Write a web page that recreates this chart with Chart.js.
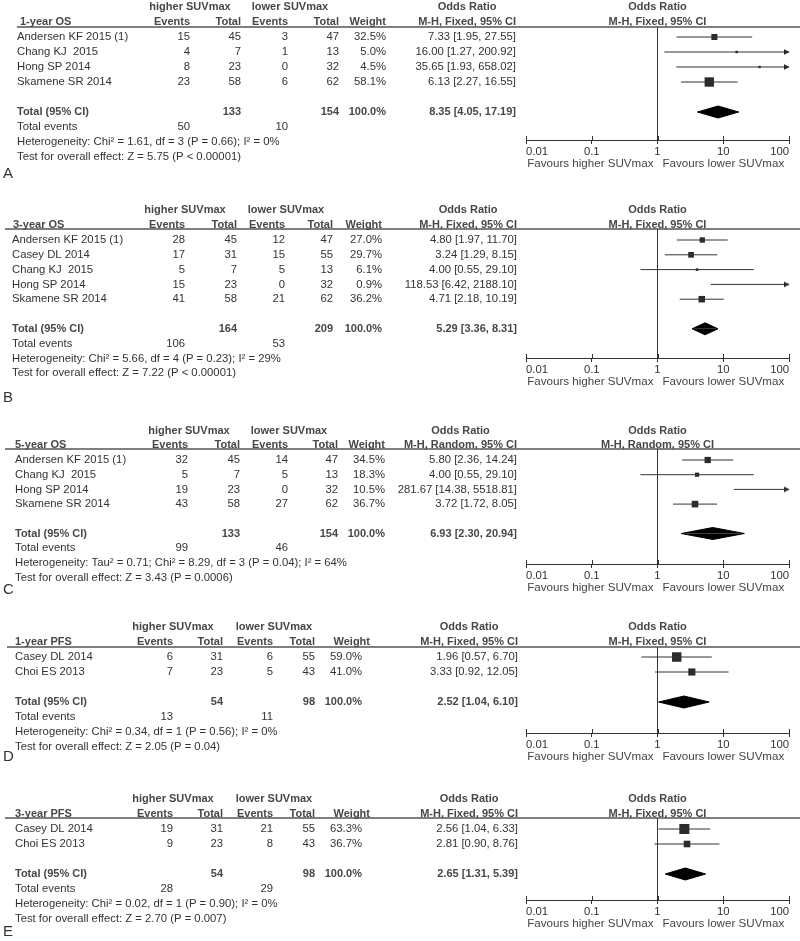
<!DOCTYPE html>
<html>
<head>
<meta charset="utf-8">
<script src="https://cdn.jsdelivr.net/npm/chart.js@4.4.1/dist/chart.umd.min.js"></script>
<style>
  body { margin: 0; background: #fff; }
  #wrap { position: relative; width: 800px; height: 941px; background: #fff; }
  #wrap canvas { position: absolute; left: 0; }
</style>
</head>
<body>
<div id="wrap"></div>
<script>
const FONT = '"Liberation Sans", Arial, Helvetica, sans-serif';
Chart.defaults.font.family = FONT;
Chart.defaults.font.size = 11;
Chart.defaults.color = '#333';

const axisTicks = [0.01, 0.1, 1, 10, 100];
const favours = ['Favours higher SUVmax', 'Favours lower SUVmax'];

// A - 1-year OS
const os1Studies = ['Andersen KF 2015 (1)', 'Chang KJ  2015', 'Hong SP 2014', 'Skamene SR 2014'];
const os1HighEvents = [15, 4, 8, 23];
const os1HighTotal = [45, 7, 23, 58];
const os1LowEvents = [3, 1, 0, 6];
const os1LowTotal = [47, 13, 32, 62];
const os1Weight = [32.5, 5.0, 4.5, 58.1];
const os1OR = [7.33, 16.00, 35.65, 6.13];
const os1Lower = [1.95, 1.27, 1.93, 2.27];
const os1Upper = [27.55, 200.92, 658.02, 16.55];
const os1Totals = [133, 154];
const os1Events = [50, 10];
const os1Pooled = [8.35, 4.05, 17.19];
const os1Het = 'Heterogeneity: Chi\u00b2 = 1.61, df = 3 (P = 0.66); I\u00b2 = 0%';
const os1Test = 'Test for overall effect: Z = 5.75 (P < 0.00001)';

// B - 3-year OS
const os3Studies = ['Andersen KF 2015 (1)', 'Casey DL 2014', 'Chang KJ  2015', 'Hong SP 2014', 'Skamene SR 2014'];
const os3HighEvents = [28, 17, 5, 15, 41];
const os3HighTotal = [45, 31, 7, 23, 58];
const os3LowEvents = [12, 15, 5, 0, 21];
const os3LowTotal = [47, 55, 13, 32, 62];
const os3Weight = [27.0, 29.7, 6.1, 0.9, 36.2];
const os3OR = [4.80, 3.24, 4.00, 118.53, 4.71];
const os3Lower = [1.97, 1.29, 0.55, 6.42, 2.18];
const os3Upper = [11.70, 8.15, 29.10, 2188.10, 10.19];
const os3Totals = [164, 209];
const os3Events = [106, 53];
const os3Pooled = [5.29, 3.36, 8.31];
const os3Het = 'Heterogeneity: Chi\u00b2 = 5.66, df = 4 (P = 0.23); I\u00b2 = 29%';
const os3Test = 'Test for overall effect: Z = 7.22 (P < 0.00001)';

// C - 5-year OS
const os5Studies = ['Andersen KF 2015 (1)', 'Chang KJ  2015', 'Hong SP 2014', 'Skamene SR 2014'];
const os5HighEvents = [32, 5, 19, 43];
const os5HighTotal = [45, 7, 23, 58];
const os5LowEvents = [14, 5, 0, 27];
const os5LowTotal = [47, 13, 32, 62];
const os5Weight = [34.5, 18.3, 10.5, 36.7];
const os5OR = [5.80, 4.00, 281.67, 3.72];
const os5Lower = [2.36, 0.55, 14.38, 1.72];
const os5Upper = [14.24, 29.10, 5518.81, 8.05];
const os5Totals = [133, 154];
const os5Events = [99, 46];
const os5Pooled = [6.93, 2.30, 20.94];
const os5Het = 'Heterogeneity: Tau\u00b2 = 0.71; Chi\u00b2 = 8.29, df = 3 (P = 0.04); I\u00b2 = 64%';
const os5Test = 'Test for overall effect: Z = 3.43 (P = 0.0006)';

// D - 1-year PFS
const pfs1Studies = ['Casey DL 2014', 'Choi ES 2013'];
const pfs1HighEvents = [6, 7];
const pfs1HighTotal = [31, 23];
const pfs1LowEvents = [6, 5];
const pfs1LowTotal = [55, 43];
const pfs1Weight = [59.0, 41.0];
const pfs1OR = [1.96, 3.33];
const pfs1Lower = [0.57, 0.92];
const pfs1Upper = [6.70, 12.05];
const pfs1Totals = [54, 98];
const pfs1Events = [13, 11];
const pfs1Pooled = [2.52, 1.04, 6.10];
const pfs1Het = 'Heterogeneity: Chi\u00b2 = 0.34, df = 1 (P = 0.56); I\u00b2 = 0%';
const pfs1Test = 'Test for overall effect: Z = 2.05 (P = 0.04)';

// E - 3-year PFS
const pfs3Studies = ['Casey DL 2014', 'Choi ES 2013'];
const pfs3HighEvents = [19, 9];
const pfs3HighTotal = [31, 23];
const pfs3LowEvents = [21, 8];
const pfs3LowTotal = [55, 43];
const pfs3Weight = [63.3, 36.7];
const pfs3OR = [2.56, 2.81];
const pfs3Lower = [1.04, 0.90];
const pfs3Upper = [6.33, 8.76];
const pfs3Totals = [54, 98];
const pfs3Events = [28, 29];
const pfs3Pooled = [2.65, 1.31, 5.39];
const pfs3Het = 'Heterogeneity: Chi\u00b2 = 0.02, df = 1 (P = 0.90); I\u00b2 = 0%';
const pfs3Test = 'Test for overall effect: Z = 2.70 (P = 0.007)';

const colsWide = { title: 15, name: 15, ev1: 188, tot1: 240, ev2: 288, tot2: 338, wt: 385, wtHead: 385, orv: 517, hiHead: 189, loHead: 289 };
const colsNarrow = { title: 15, name: 15, ev1: 173, tot1: 223, ev2: 273, tot2: 315, wt: 362, wtHead: 370, orv: 518, hiHead: 173, loHead: 274 };

const panels = [
  { letter: 'A', title: '1-year OS', method: 'M-H, Fixed, 95% CI',
    studies: os1Studies, hiEv: os1HighEvents, hiN: os1HighTotal, loEv: os1LowEvents, loN: os1LowTotal,
    weight: os1Weight, or: os1OR, lower: os1Lower, upper: os1Upper,
    totals: os1Totals, events: os1Events, pooled: os1Pooled, het: os1Het, test: os1Test,
    top: 0, height: 190, y0: 37, step: 15, lineY: 27, lineX: 17, axisY: 140, letterY: 174,
    cols: { title: 20, name: 17, ev1: 190, tot1: 241, ev2: 288, tot2: 339, wt: 386, wtHead: 386, orv: 516, hiHead: 190, loHead: 290 } },
  { letter: 'B', title: '3-year OS', method: 'M-H, Fixed, 95% CI',
    studies: os3Studies, hiEv: os3HighEvents, hiN: os3HighTotal, loEv: os3LowEvents, loN: os3LowTotal,
    weight: os3Weight, or: os3OR, lower: os3Lower, upper: os3Upper,
    totals: os3Totals, events: os3Events, pooled: os3Pooled, het: os3Het, test: os3Test,
    top: 190, height: 220, y0: 240, step: 14.8, lineY: 229, lineX: 5, axisY: 358, letterY: 398,
    cols: { title: 13, name: 12, ev1: 185, tot1: 237, ev2: 285, tot2: 333, wt: 382, wtHead: 382, orv: 517, hiHead: 185, loHead: 286 } },
  { letter: 'C', title: '5-year OS', method: 'M-H, Random, 95% CI',
    studies: os5Studies, hiEv: os5HighEvents, hiN: os5HighTotal, loEv: os5LowEvents, loN: os5LowTotal,
    weight: os5Weight, or: os5OR, lower: os5Lower, upper: os5Upper,
    totals: os5Totals, events: os5Events, pooled: os5Pooled, het: os5Het, test: os5Test,
    top: 410, height: 195, y0: 460, step: 14.7, lineY: 449, lineX: 5, axisY: 564, letterY: 590,
    cols: colsWide },
  { letter: 'D', title: '1-year PFS', method: 'M-H, Fixed, 95% CI',
    studies: pfs1Studies, hiEv: pfs1HighEvents, hiN: pfs1HighTotal, loEv: pfs1LowEvents, loN: pfs1LowTotal,
    weight: pfs1Weight, or: pfs1OR, lower: pfs1Lower, upper: pfs1Upper,
    totals: pfs1Totals, events: pfs1Events, pooled: pfs1Pooled, het: pfs1Het, test: pfs1Test,
    top: 605, height: 170, y0: 657, step: 15, lineY: 647, lineX: 7, axisY: 733, letterY: 757,
    cols: colsNarrow },
  { letter: 'E', title: '3-year PFS', method: 'M-H, Fixed, 95% CI',
    studies: pfs3Studies, hiEv: pfs3HighEvents, hiN: pfs3HighTotal, loEv: pfs3LowEvents, loN: pfs3LowTotal,
    weight: pfs3Weight, or: pfs3OR, lower: pfs3Lower, upper: pfs3Upper,
    totals: pfs3Totals, events: pfs3Events, pooled: pfs3Pooled, het: pfs3Het, test: pfs3Test,
    top: 775, height: 166, y0: 829, step: 15, lineY: 818, lineX: 5, axisY: 900, letterY: 932,
    cols: colsNarrow }
];

const X_MIN = axisTicks[0], X_MAX = axisTicks[axisTicks.length - 1];
const AXIS_H = 30;
const BODY_SIZE = 11.3;

// arrow head, tip at the centre of the image so it ends on the axis limit
const arrowImg = document.createElement('canvas');
arrowImg.width = 12; arrowImg.height = 8;
(function () {
  const c = arrowImg.getContext('2d');
  c.fillStyle = '#222';
  c.beginPath(); c.moveTo(6.5, 4); c.lineTo(1, 1.3); c.lineTo(1, 6.7); c.closePath(); c.fill();
})();

function fmtOR(v, lo, hi) {
  return v.toFixed(2) + ' [' + lo.toFixed(2) + ', ' + hi.toFixed(2) + ']';
}

function tablePlugin(p) {
  return {
    id: 'forestTable',
    afterDraw(chart) {
      const ctx = chart.ctx, xs = chart.scales.x, ys = chart.scales.y, area = chart.chartArea, c = p.cols;
      const n = p.studies.length;
      const row = i => ys.getPixelForValue(i);
      const put = (s, x, y, align, bold, size, color) => {
        ctx.font = (bold ? 'bold ' : '') + (size || (bold ? 11 : BODY_SIZE)) + 'px ' + FONT;
        ctx.fillStyle = color || (bold ? '#474747' : '#333');
        ctx.textAlign = align;
        ctx.fillText(s, x, y);
      };
      ctx.save();
      ctx.textBaseline = 'middle';

      // heading rule
      ctx.strokeStyle = '#555';
      ctx.lineWidth = 1.5;
      ctx.beginPath();
      ctx.moveTo(p.lineX, area.top);
      ctx.lineTo(800, area.top);
      ctx.stroke();

      const x1 = xs.getPixelForValue(1);
      ctx.font = 'bold 11px ' + FONT;
      const mw = ctx.measureText(p.method).width;
      put('higher SUVmax', c.hiHead, row(-2), 'center', true);
      put('lower SUVmax', c.loHead, row(-2), 'center', true);
      put('Odds Ratio', c.orv - mw / 2, row(-2), 'center', true);
      put('Odds Ratio', x1, row(-2), 'center', true);
      put(p.title, c.title, row(-1), 'left', true);
      put('Events', c.ev1, row(-1), 'right', true);
      put('Total', c.tot1, row(-1), 'right', true);
      put('Events', c.ev2, row(-1), 'right', true);
      put('Total', c.tot2, row(-1), 'right', true);
      put('Weight', c.wtHead, row(-1), 'right', true);
      put(p.method, c.orv, row(-1), 'right', true);
      put(p.method, x1, row(-1), 'center', true);

      p.studies.forEach((s, i) => {
        const y = row(i);
        put(s, c.name, y, 'left');
        put(String(p.hiEv[i]), c.ev1, y, 'right');
        put(String(p.hiN[i]), c.tot1, y, 'right');
        put(String(p.loEv[i]), c.ev2, y, 'right');
        put(String(p.loN[i]), c.tot2, y, 'right');
        put(p.weight[i].toFixed(1) + '%', c.wt, y, 'right');
        put(fmtOR(p.or[i], p.lower[i], p.upper[i]), c.orv, y, 'right');
      });

      const t = n + 1;
      put('Total (95% CI)', c.name, row(t), 'left', true);
      put(String(p.totals[0]), c.tot1, row(t), 'right', true);
      put(String(p.totals[1]), c.tot2, row(t), 'right', true);
      put('100.0%', c.wt, row(t), 'right', true);
      put(fmtOR(p.pooled[0], p.pooled[1], p.pooled[2]), c.orv, row(t), 'right', true);
      put('Total events', c.name, row(t + 1), 'left');
      put(String(p.events[0]), c.ev1, row(t + 1), 'right');
      put(String(p.events[1]), c.ev2, row(t + 1), 'right');
      put(p.het, c.name, row(t + 2), 'left');
      put(p.test, c.name, row(t + 3), 'left');

      put(p.letter, 3, p.letterY - p.top, 'left', false, 15, '#333');

      const fy = area.bottom + 24;
      put(favours[0], x1 - 4, fy, 'right', false, 11.6, '#444');
      put(favours[1], x1 + 5, fy, 'left', false, 11.6, '#444');

      // upper half of the tick marks
      ctx.strokeStyle = '#333';
      ctx.lineWidth = 1;
      xs.ticks.forEach(tk => {
        const x = Math.round(xs.getPixelForValue(tk.value)) + 0.5;
        ctx.beginPath();
        ctx.moveTo(x, area.bottom - 4);
        ctx.lineTo(x, area.bottom);
        ctx.stroke();
      });
      ctx.restore();
    }
  };
}

function drawPanel(p) {
  const cv = document.createElement('canvas');
  cv.width = 800;
  cv.height = p.height;
  cv.style.top = p.top + 'px';
  document.getElementById('wrap').appendChild(cv);

  const n = p.studies.length;
  const yMin = (p.lineY - p.y0) / p.step;
  const yMax = (p.axisY - p.y0) / p.step;
  const t = n + 1;
  const dh = 6 / p.step;

  const datasets = [];
  // line of no effect
  datasets.push({ data: [{ x: 1, y: yMin }, { x: 1, y: yMax }], borderColor: '#333', borderWidth: 1, pointRadius: 0 });
  // confidence intervals
  p.studies.forEach((s, i) => {
    datasets.push({ data: [{ x: p.lower[i], y: i }, { x: p.upper[i], y: i }], borderColor: '#333', borderWidth: 1, pointRadius: 0 });
  });
  // point estimates, square side grows with weight
  datasets.push({
    data: p.or.map((v, i) => ({ x: v, y: i })),
    showLine: false,
    pointStyle: 'rect',
    pointRadius: p.weight.map(w => (1.8 + 0.13 * w) / Math.SQRT2),
    pointBackgroundColor: '#2a2a2a',
    pointBorderWidth: 0
  });
  // arrows for intervals running past the axis
  datasets.push({
    data: p.upper.map((v, i) => (v > X_MAX ? { x: X_MAX, y: i } : null)).filter(Boolean),
    showLine: false,
    pointStyle: arrowImg,
    clip: false
  });
  // pooled diamond, two halves
  [-dh, dh].forEach(d => {
    datasets.push({
      data: [{ x: p.pooled[1], y: t }, { x: p.pooled[0], y: t + d }, { x: p.pooled[2], y: t }],
      borderColor: '#000', backgroundColor: '#000', borderWidth: 1, pointRadius: 0,
      fill: { value: t }, tension: 0
    });
  });

  new Chart(cv, {
    type: 'line',
    data: { datasets },
    options: {
      responsive: false,
      animation: false,
      devicePixelRatio: 1,
      events: [],
      layout: { padding: { left: 526, right: 11, top: p.lineY - p.top, bottom: p.height - (p.axisY - p.top) - AXIS_H } },
      plugins: { legend: { display: false }, tooltip: { enabled: false } },
      scales: {
        x: {
          type: 'logarithmic',
          min: X_MIN,
          max: X_MAX,
          afterBuildTicks: s => { s.ticks = axisTicks.map(v => ({ value: v })); },
          afterFit: s => { s.height = AXIS_H; },
          ticks: { callback: v => String(v), autoSkip: false, maxRotation: 0, padding: 1, align: 'inner', color: '#333', font: { size: BODY_SIZE } },
          grid: { drawOnChartArea: false, drawTicks: true, tickLength: 4, color: '#333' },
          border: { display: true, color: '#333', width: 1 }
        },
        y: { type: 'linear', display: false, reverse: true, min: yMin, max: yMax }
      }
    },
    plugins: [tablePlugin(p)]
  });
}

panels.forEach(drawPanel);
</script>
</body>
</html>
